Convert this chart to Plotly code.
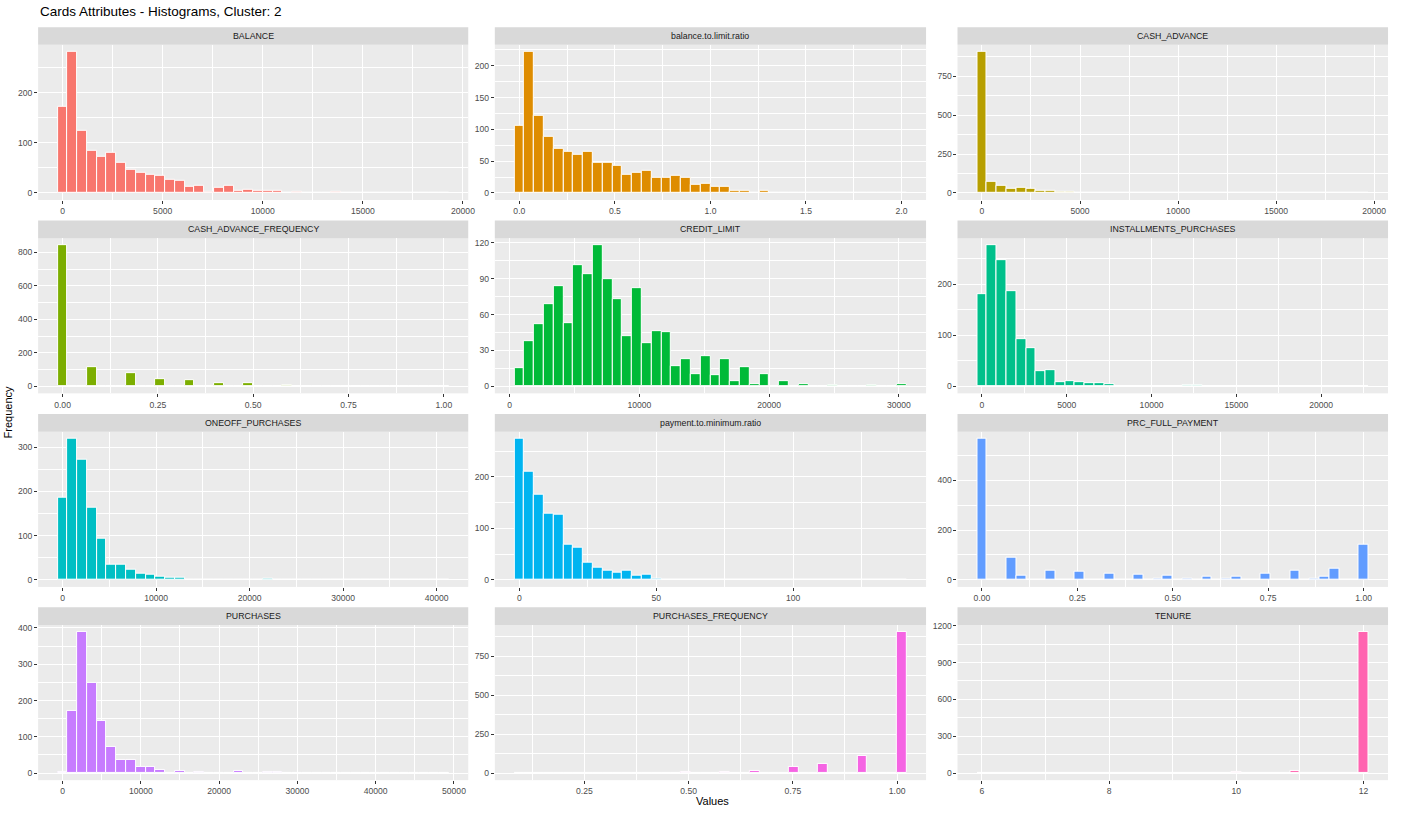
import numpy as np
import plotly.graph_objects as go

TITLE = "Cards Attributes - Histograms, Cluster: 2"
X_TITLE = "Values"
Y_TITLE = "Frequency"

variables = ["BALANCE", "balance.to.limit.ratio", "CASH_ADVANCE",
             "CASH_ADVANCE_FREQUENCY", "CREDIT_LIMIT", "INSTALLMENTS_PURCHASES",
             "ONEOFF_PURCHASES", "payment.to.minimum.ratio", "PRC_FULL_PAYMENT",
             "PURCHASES", "PURCHASES_FREQUENCY", "TENURE"]

# observed range of each variable (ggplot-style binning into 40 bins)
value_min = [0, 0, 0, 0, 555, 0, 0, 0.05, 0, 0, 0.0833, 6]
value_max = [19043, 2.0, 19460, 1.0, 30000, 22500, 40761, 139.6, 1.0, 48700, 1.0, 12]

# bin counts (40 bins each)
balance = [172, 281, 123, 83, 72, 80, 60, 47, 41, 37, 35, 27, 25, 12, 15, 3, 11, 15, 5, 7,
           4, 4, 5, 1, 3, 1, 0, 0, 3, 0, 1, 1, 0, 1, 0, 0, 1, 0, 0, 1]
balance_to_limit = [106, 222, 121, 88, 70, 64, 60, 65, 47, 47, 42, 29, 32, 35, 24, 24, 27, 24, 13, 14,
                    10, 9, 3, 3, 0, 3, 0, 0, 0, 0, 1, 0, 0, 0, 0, 0, 0, 0, 0, 1]
cash_advance = [908, 74, 44, 27, 36, 27, 15, 13, 7, 5, 3, 3, 2, 2, 1, 2, 1, 1, 1, 0,
                1, 1, 0, 0, 0, 1, 0, 0, 0, 1, 0, 0, 1, 0, 0, 0, 0, 0, 0, 1]
cash_advance_freq = [843, 0, 0, 112, 0, 0, 0, 80, 0, 0, 40, 0, 0, 36, 0, 0, 19, 0, 0, 19,
                     0, 0, 0, 6, 0, 0, 2, 0, 0, 2, 0, 0, 4, 0, 0, 0, 0, 0, 0, 1]
credit_limit = [15, 38, 52, 69, 84, 53, 101, 94, 118, 90, 73, 42, 82, 36, 46, 45, 17, 23, 10, 25,
                9, 23, 4, 16, 2, 10, 0, 4, 0, 2, 0, 0, 1, 0, 0, 0, 1, 0, 0, 2]
installments = [180, 277, 247, 186, 92, 75, 30, 31, 8, 10, 8, 6, 6, 4, 1, 1, 1, 0, 0, 0,
                0, 2, 2, 0, 0, 1, 0, 0, 0, 0, 0, 0, 0, 0, 0, 0, 0, 0, 0, 1]
oneoff = [186, 319, 271, 164, 92, 35, 34, 22, 14, 12, 7, 6, 4, 1, 1, 1, 0, 1, 1, 0,
          0, 2, 1, 1, 1, 0, 0, 0, 0, 0, 0, 0, 0, 1, 0, 0, 0, 0, 0, 1]
payment_to_min = [274, 210, 165, 128, 126, 68, 63, 34, 23, 18, 14, 17, 8, 11, 3, 1, 1, 1, 1, 0,
                  0, 1, 0, 0, 1, 0, 1, 0, 0, 0, 0, 0, 0, 0, 0, 0, 0, 0, 0, 1]
prc_full_payment = [567, 0, 0, 91, 17, 1, 0, 36, 1, 0, 32, 0, 2, 25, 0, 0, 20, 0, 3, 17,
                    0, 3, 0, 13, 0, 3, 13, 0, 1, 23, 1, 0, 35, 0, 4, 13, 43, 0, 0, 143]
purchases = [2, 172, 389, 248, 145, 72, 35, 37, 16, 17, 9, 0, 5, 0, 2, 0, 0, 0, 6, 0,
             0, 2, 2, 0, 0, 0, 0, 0, 0, 0, 0, 0, 0, 0, 0, 0, 0, 0, 0, 1]
purchases_freq = [1, 0, 0, 1, 0, 0, 0, 1, 0, 0, 3, 0, 0, 0, 2, 0, 0, 10, 0, 0,
                  0, 10, 0, 0, 14, 0, 0, 0, 38, 0, 0, 62, 0, 0, 3, 113, 0, 0, 0, 905]
tenure = [3, 0, 0, 0, 0, 0, 0, 0, 0, 0, 0, 0, 0, 2, 0, 0, 0, 0, 0, 0,
          0, 0, 0, 0, 0, 0, 8, 0, 0, 0, 0, 0, 16, 0, 0, 0, 0, 0, 0, 1149]

counts = [balance, balance_to_limit, cash_advance, cash_advance_freq, credit_limit,
          installments, oneoff, payment_to_min, prc_full_payment, purchases,
          purchases_freq, tenure]

# ---------------- styling ----------------
colors = ["#F8766D", "#DE8C00", "#B79F00", "#7CAE00", "#00BA38", "#00C08B",
          "#00BFC4", "#00B4F0", "#619CFF", "#C77CFF", "#F564E3", "#FF64B0"]
x_dtick = [5000, 0.5, 5000, 0.25, 10000, 5000, 10000, 50, 0.25, 10000, 0.25, 2]
y_dtick = [100, 50, 250, 200, 30, 100, 100, 100, 200, 100, 250, 300]
x_fmt = ["d", ".1f", "d", ".2f", "d", "d", "d", "d", ".2f", "d", ".2f", "d"]

W, H = 1403, 813
col_px = [(38.3, 470.6), (497.3, 930.7), (962.3, 1395.0)]
row_top = [41.0, 235.3, 429.8, 624.0]
panel_h = 156.0
strip_h = 17.7
FONT = "Liberation Sans, Arial, sans-serif"


def gg_bins(mn, mx, n):
    w = (mx - mn) / 39.0
    origin = w / 2 + np.floor((mn - w / 2) / w) * w
    centers = origin + w / 2 + w * np.arange(n)
    return centers, w


fig = go.Figure()
shapes = []
annotations = []
layout_axes = {}

for i, name in enumerate(variables):
    r, c = divmod(i, 3)
    idx = i + 1
    cnt = np.array(counts[i], dtype=float)
    centers, w = gg_bins(value_min[i], value_max[i], len(cnt))
    fig.add_trace(go.Bar(
        x=centers, y=cnt, width=w,
        marker=dict(color=colors[i], line=dict(color="white", width=1)),
        xaxis=f"x{idx}", yaxis=f"y{idx}", showlegend=False,
        hovertemplate="%{x}: %{y}<extra>" + name + "</extra>"))

    lo, hi = centers[0] - w / 2, centers[-1] + w / 2
    pad = 0.05 * (hi - lo)
    ymax = cnt.max()
    x0, x1 = col_px[c]
    top = row_top[r]
    bot = top + panel_h

    common = dict(
        ticks="outside", ticklen=3, tickwidth=1, tickcolor="#333333",
        tickfont=dict(size=8.6, color="#4D4D4D", family=FONT),
        showgrid=True, gridcolor="white", gridwidth=1.1,
        zeroline=False, showline=False, tick0=0,
    )
    layout_axes[f"xaxis{idx}"] = dict(
        domain=[x0 / W, x1 / W], anchor=f"y{idx}",
        range=[lo - pad, hi + pad], dtick=x_dtick[i], tickformat=x_fmt[i],
        minor=dict(tick0=0, dtick=x_dtick[i] / 2, showgrid=True,
                   gridcolor="white", gridwidth=0.5, ticks=""),
        **common)
    layout_axes[f"yaxis{idx}"] = dict(
        domain=[1 - bot / H, 1 - top / H], anchor=f"x{idx}",
        range=[-0.05 * ymax, 1.05 * ymax], dtick=y_dtick[i], tickformat="d",
        minor=dict(tick0=0, dtick=y_dtick[i] / 2, showgrid=True,
                   gridcolor="white", gridwidth=0.5, ticks=""),
        **common)

    # facet strip
    shapes.append(dict(type="rect", xref="paper", yref="paper",
                       x0=x0 / W, x1=x1 / W,
                       y0=1 - top / H, y1=1 - (top - strip_h) / H,
                       fillcolor="#D9D9D9", line=dict(width=0), layer="below"))
    annotations.append(dict(text=name, xref="paper", yref="paper",
                            x=(x0 + x1) / 2 / W, y=1 - (top - strip_h / 2) / H,
                            xanchor="center", yanchor="middle", showarrow=False,
                            font=dict(size=8.8, color="#1A1A1A", family=FONT)))

annotations.append(dict(text=TITLE, xref="paper", yref="paper",
                        x=38 / W, y=1 - 8.0 / H, xanchor="left", yanchor="middle",
                        showarrow=False, font=dict(size=13.5, color="black", family=FONT)))
annotations.append(dict(text=X_TITLE, xref="paper", yref="paper",
                        x=716.5 / W, y=1 - 801 / H, xanchor="center", yanchor="middle",
                        showarrow=False, font=dict(size=11, color="black", family=FONT)))
annotations.append(dict(text=Y_TITLE, xref="paper", yref="paper",
                        x=8.5 / W, y=1 - 410 / H, xanchor="center", yanchor="middle",
                        textangle=-90, showarrow=False,
                        font=dict(size=11, color="black", family=FONT)))

fig.update_layout(
    width=W, height=H, autosize=False,
    margin=dict(l=0, r=0, t=0, b=0),
    paper_bgcolor="white", plot_bgcolor="#EBEBEB",
    font=dict(family=FONT, color="#4D4D4D"),
    bargap=0, showlegend=False,
    shapes=shapes, annotations=annotations,
    **layout_axes)

fig.write_html("out.html", config={"displayModeBar": False},
               post_script="document.body.style.margin='0';"
                           "document.body.style.overflow='hidden';")
